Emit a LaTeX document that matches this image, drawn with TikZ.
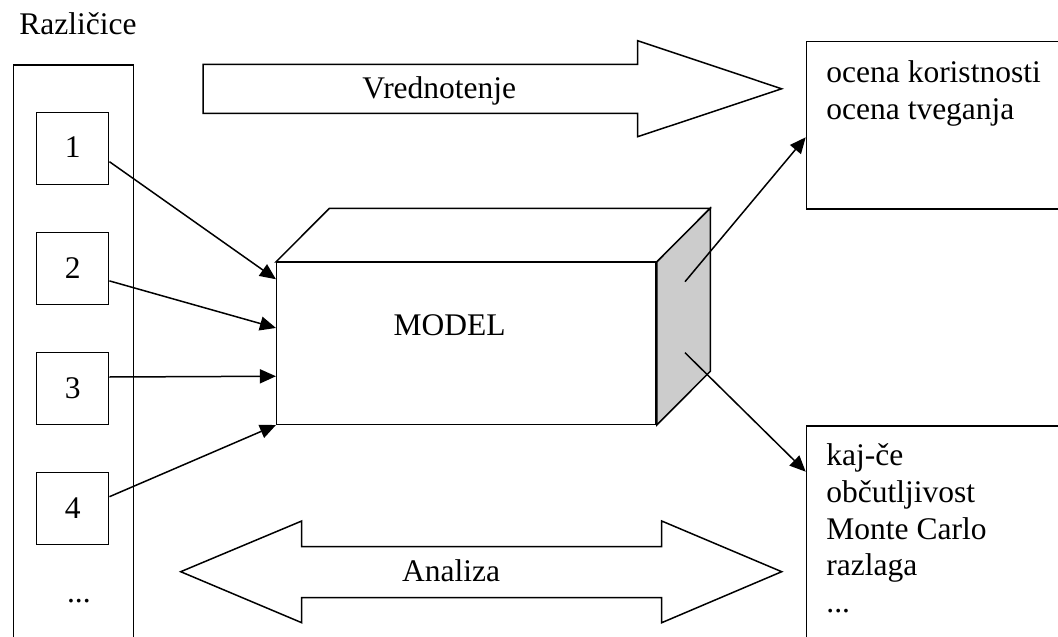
\documentclass[tikz,border=0pt]{standalone}
\usepackage{fontspec}
\setmainfont{Liberation Serif}
\usetikzlibrary{arrows.meta,calc}
\definecolor{sideface}{HTML}{CCCCCC}
\begin{document}
\begin{tikzpicture}[x=0.5pt,y=-0.5pt,
  every node/.style={font=\fontsize{15.75pt}{18.35pt}\selectfont, inner sep=0pt},
  frame/.style={draw, line width=0.75pt},
  numbox/.style={frame, minimum width=36pt, minimum height=36pt,
                 text height=0.94em, text depth=0pt},
  link/.style={line width=0.75pt, -{Triangle[length=8pt,width=7pt]}},
  txt/.style={anchor=base west},
  line join=miter]

\useasboundingbox (0,0) rectangle (1058,636);
\clip (0,0) rectangle (1058,636);

% column of variants
\node[txt] (title) at (19,35) {Različice};
\draw[frame] (13.3,700) -- (13.3,65) -- (133.3,65) -- (133.3,700);
\node[numbox] (b1) at (72.7,148.5) {1};
\node[numbox] (b2) at (72.7,268.7) {2};
\node[numbox] (b3) at (72.7,388.7) {3};
\node[numbox] (b4) at (72.7,508.7) {4};
\node[txt] (more) at (66.7,602) {...};

% the model as a box in perspective
\node[frame, minimum width=189.65pt, minimum height=80.8pt] (model) at (466.35,343.5) {};
\draw[frame, fill=white] (model.north west) -- ++(53.5,-53.7) coordinate (btl)
  -- ($(model.north east)+(53.5,-53.7)$) coordinate (btr)
  -- (model.north east) -- cycle;
\draw[frame, fill=sideface] (model.north east) -- (btr)
  -- ($(model.south east)+(53.5,-53.7)$) coordinate (bbr)
  -- (model.south east) -- cycle;
\node[txt] (modeltext) at (393.3,335) {MODEL};

% inputs
\draw[link] ($(b1.east)+(0,13.2)$) -- ($(model.north west)+(0,17.3)$);
\draw[link] ($(b2.east)+(0,12.2)$) -- ($(model.north west)+(0,66)$);
\draw[link] ($(b3.east)+(0,-11.7)$) -- ($(model.north west)+(0,114.3)$);
\draw[link] ($(b4.east)+(0,-12)$) -- (model.south west);

% results
\node[frame, anchor=north west, minimum width=140pt, minimum height=83.8pt] (res) at (805.7,40.7) {};
\node[frame, anchor=north west, minimum width=140pt, minimum height=120pt] (ana) at (805.7,425) {};
\node[anchor=north west, align=left] (restext) at (826,60.2) {ocena koristnosti\\ocena tveganja};
\node[anchor=north west, align=left] (anatext) at (826,443.5) {kaj-če\\občutljivost\\Monte Carlo\\razlaga\\...};

\coordinate (o1) at (685,281.7);
\coordinate (o2) at (685,352.7);
\draw[link] (o1) -- ($(res.north west)+(0,96.6)$);
\draw[link] (o2) -- ($(ana.north west)+(0,46.7)$);

% evaluation arrow
\draw[frame] (203,64.3) -- (637.7,64.3) -- (637.7,40.7) -- (781.7,88.8)
  -- (637.7,136.7) -- (637.7,113.3) -- (203,113.3) -- cycle;
\node[txt] (valtext) at (362,98.5) {Vrednotenje};

% analysis arrow
\draw[frame] (180.7,571.7) -- (301.7,521) -- (301.7,546.7) -- (661.7,546.7)
  -- (661.7,521) -- (781.7,571.7) -- (661.7,622.7) -- (661.7,597.7)
  -- (301.7,597.7) -- (301.7,622.7) -- cycle;
\node[txt] (anatitle) at (401.7,581.7) {Analiza};
\end{tikzpicture}
\end{document}
